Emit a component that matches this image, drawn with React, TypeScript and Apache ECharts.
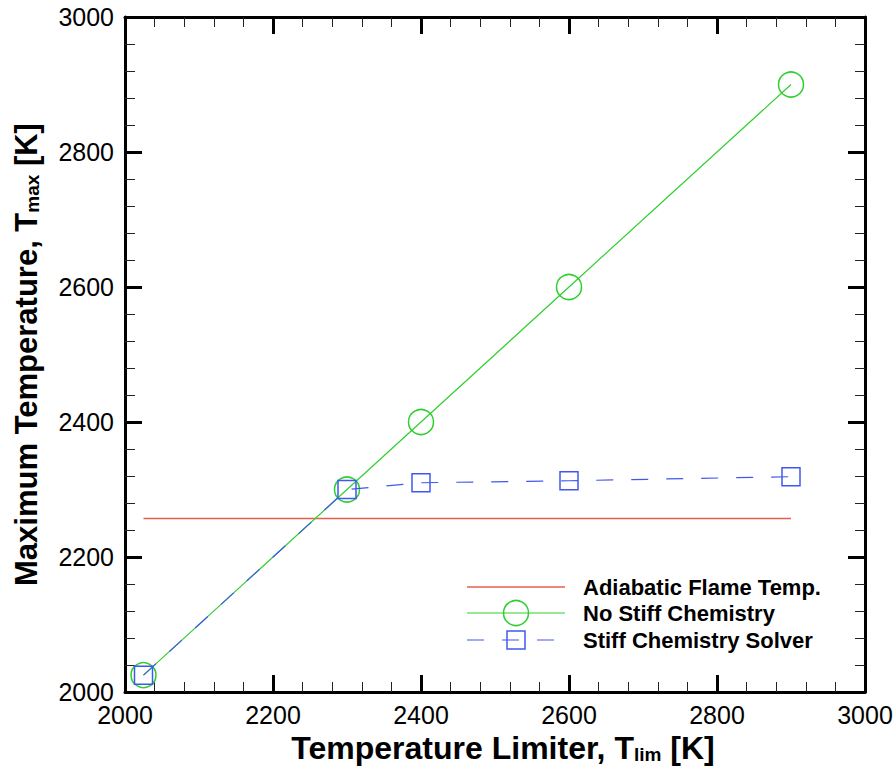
import React, { useEffect, useRef } from "react";
import * as echarts from "echarts";

// ---- Data ----
const tempLimiter = [2025, 2300, 2400, 2600, 2900];
const noStiffTmax = [2025, 2300, 2400, 2600, 2900];
const stiffTmax = [2025, 2300, 2310, 2313, 2319];
const adiabaticX = [2025, 2900];
const adiabaticT = [2257, 2257];

const seriesNames = ["Adiabatic Flame Temp.", "No Stiff Chemistry", "Stiff Chemistry Solver"];
const axisMin = 2000;
const axisMax = 3000;
const axisStep = 200;

const RED = "#e4604c";
const GREEN = "#2fcf2f";
const BLUE = "#4058f0";
const FONT = "'Liberation Sans', Arial, Helvetica, sans-serif";

const zip = (xs: number[], ys: number[]) => xs.map((x, i) => [x, ys[i]]);

export default function App() {
  const ref = useRef<HTMLDivElement>(null);

  useEffect(() => {
    if (!ref.current) return;
    const chart = echarts.init(ref.current, null, { renderer: "svg" });

    const tickCommon = {
      axisLine: { show: true, onZero: false, lineStyle: { color: "#000", width: 3 } },
      axisTick: { show: true, inside: true, length: 17, lineStyle: { color: "#000", width: 3 } },
      minorTick: { show: true, splitNumber: 5, length: 10, lineStyle: { color: "#222", width: 1 } },
      splitLine: { show: false },
      minorSplitLine: { show: false },
    };

    const labelStyle = {
      color: "#000",
      fontSize: 25,
      fontFamily: FONT,
      showMinLabel: true,
      showMaxLabel: true,
      hideOverlap: false,
      formatter: (v: number) => String(v),
    };

    const nameStyle = (size: number, subSize: number) => ({
      color: "#000",
      fontSize: size,
      fontWeight: "bold" as const,
      fontFamily: FONT,
      lineHeight: size,
      rich: {
        sub: {
          color: "#000",
          fontSize: subSize,
          fontWeight: "bold" as const,
          fontFamily: FONT,
          lineHeight: 6,
          verticalAlign: "bottom" as const,
        },
      },
    });

    const legendText = (text: string, y: number) => ({
      type: "text",
      x: 583,
      y,
      style: {
        text,
        fill: "#000",
        fontSize: 22,
        fontWeight: "bold",
        fontFamily: FONT,
        verticalAlign: "middle",
        align: "left",
      },
    });

    const option: any = {
      animation: false,
      backgroundColor: "#fff",
      grid: {
        left: 125,
        right: 31,
        top: 17,
        bottom: 78,
        containLabel: false,
        outerBoundsMode: "none",
      },
      xAxis: [
        {
          type: "value",
          min: axisMin,
          max: axisMax,
          interval: axisStep,
          position: "bottom",
          name: "Temperature Limiter, T{sub|lim} [K]",
          nameLocation: "middle",
          nameGap: 39,
          nameTextStyle: { ...nameStyle(32, 19), padding: [0, 0, 0, 16] },
          axisLabel: { ...labelStyle, margin: 10 },
          ...tickCommon,
        },
        {
          type: "value",
          min: axisMin,
          max: axisMax,
          interval: axisStep,
          position: "top",
          axisLabel: { show: false },
          ...tickCommon,
        },
      ],
      yAxis: [
        {
          type: "value",
          min: axisMin,
          max: axisMax,
          interval: axisStep,
          position: "left",
          name: "Maximum Temperature, T{sub|max} [K]",
          nameLocation: "middle",
          nameRotate: 90,
          nameGap: 83,
          nameTextStyle: nameStyle(31, 19),
          axisLabel: { ...labelStyle, margin: 11 },
          ...tickCommon,
        },
        {
          type: "value",
          min: axisMin,
          max: axisMax,
          interval: axisStep,
          position: "right",
          axisLabel: { show: false },
          ...tickCommon,
        },
      ],
      series: [
        {
          name: seriesNames[0],
          type: "line",
          xAxisIndex: 0,
          yAxisIndex: 0,
          data: zip(adiabaticX, adiabaticT),
          symbol: "none",
          lineStyle: { color: RED, width: 1.5 },
          itemStyle: { color: RED },
          z: 2,
        },
        {
          name: seriesNames[1],
          type: "line",
          xAxisIndex: 0,
          yAxisIndex: 0,
          data: zip(tempLimiter, noStiffTmax),
          symbol: "circle",
          symbolSize: 25,
          showAllSymbol: true,
          itemStyle: { color: "rgba(255,255,255,0)", borderColor: GREEN, borderWidth: 1.5 },
          lineStyle: { color: GREEN, width: 1.2 },
          z: 3,
        },
        {
          name: seriesNames[2],
          type: "line",
          xAxisIndex: 0,
          yAxisIndex: 0,
          data: zip(tempLimiter, stiffTmax),
          symbol: "rect",
          symbolSize: 18,
          showAllSymbol: true,
          itemStyle: { color: "rgba(255,255,255,0)", borderColor: BLUE, borderWidth: 1.5 },
          lineStyle: { color: BLUE, width: 1.2, type: [17, 18] },
          z: 4,
        },
      ],
      graphic: [
        { type: "line", shape: { x1: 467, y1: 587, x2: 565, y2: 587 }, style: { stroke: RED, lineWidth: 1.5 } },
        legendText(seriesNames[0], 587),
        { type: "line", shape: { x1: 467, y1: 613, x2: 565, y2: 613 }, style: { stroke: GREEN, lineWidth: 1.2 } },
        { type: "circle", shape: { cx: 516, cy: 613, r: 12.5 }, style: { stroke: GREEN, fill: "none", lineWidth: 1.5 } },
        legendText(seriesNames[1], 613),
        { type: "line", shape: { x1: 467, y1: 640, x2: 565, y2: 640 }, style: { stroke: BLUE, lineWidth: 1.2, lineDash: [17, 18] } },
        { type: "rect", shape: { x: 507, y: 631, width: 18, height: 18 }, style: { stroke: BLUE, fill: "none", lineWidth: 1.5 } },
        legendText(seriesNames[2], 640),
      ],
    };

    chart.setOption(option);
    return () => chart.dispose();
  }, []);

  return (
    <div
      ref={ref}
      style={{ position: "fixed", left: 0, top: 0, width: 896, height: 770, background: "#fff" }}
    />
  );
}
